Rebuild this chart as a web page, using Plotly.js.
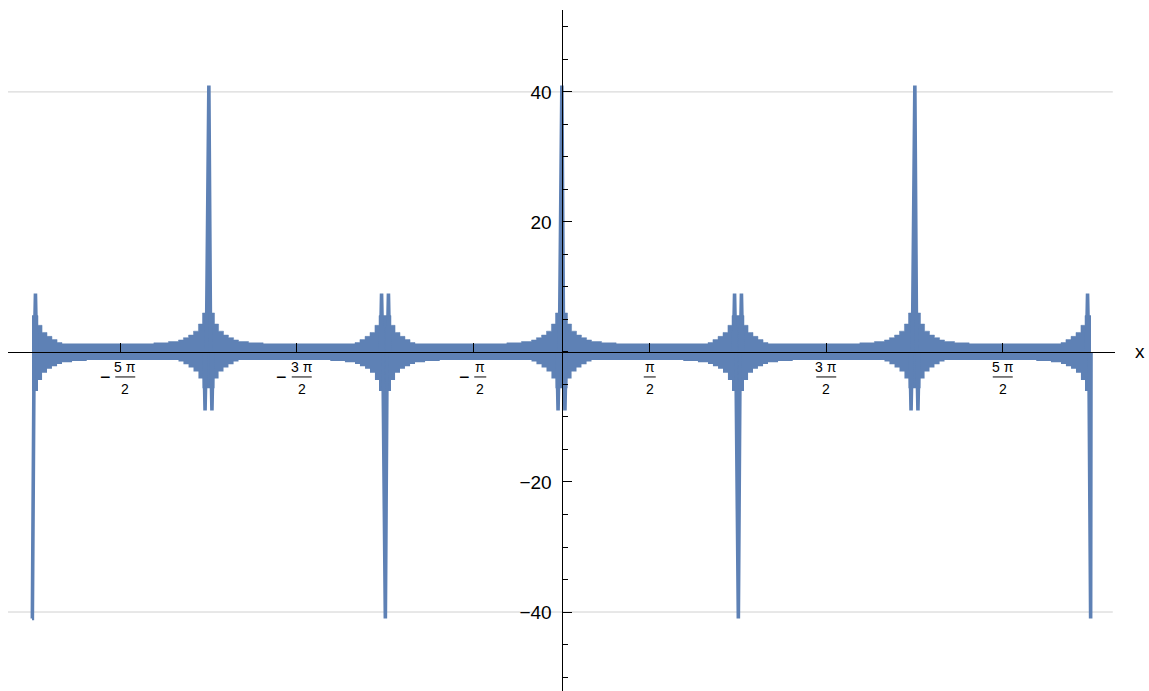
<!DOCTYPE html>
<html>
<head>
<meta charset="utf-8">
<script src="https://cdn.plot.ly/plotly-3.0.1.min.js"></script>
<style>
  html, body { margin: 0; padding: 0; background: #ffffff; }
  #chart { width: 1149px; height: 691px; }
</style>
</head>
<body>
<div id="chart"></div>
<script>
// Spike locations (multiples of π) and their signed peak heights
const spikeCentersPi = [-3, -2, -1, 0, 1, 2, 3];
const spikePeaks = [-41, 41, -41, 41, -41, 41, -41];
// First side lobes on each side of a spike, opposite in sign to the spike
const sideLobeHeight = 9;

// Envelope of the dense oscillation next to a +41 spike,
// listed by distance from the spike (in units of π); mirrored for −41 spikes
const envEdgesPi = [0, 0.034, 0.057, 0.085, 0.113, 0.142, 0.17, 0.227, 0.31, 0.5];
const envUpper   = [6.0, 4.3, 3.2, 2.6, 2.2, 1.85, 1.6, 1.4, 1.25];
const envLower   = [-5.6, -4.1, -3.0, -2.4, -1.9, -1.45, -1.25, -1.2, -1.2];

// x-axis tick labels: value (π units), numerator, denominator, sign
const xTickPi  = [-2.5, -1.5, -0.5, 0.5, 1.5, 2.5];
const xTickNum = ['5 π', '3 π', 'π', 'π', '3 π', '5 π'];
const xTickDen = ['2', '2', '2', '2', '2', '2'];
const xTickNeg = [true, true, true, false, false, false];

// y-axis tick labels
const yTickVals = [-40, -20, 20, 40];
const yTickText = ['−40', '−20', '20', '40'];
const yGridVals = [-40, 40];

const BLUE = '#5E81B5';
const FONT = 'Liberation Sans, Arial, Helvetica, sans-serif';

// Build stepped upper/lower edges of the oscillation band
function bandEdges() {
  const xs = [], up = [], lo = [];
  const n = envUpper.length;
  const first = spikeCentersPi[0], last = spikeCentersPi[spikeCentersPi.length - 1];
  spikeCentersPi.forEach((c, i) => {
    const s = Math.sign(spikePeaks[i]);
    const upAt = j => (s > 0 ? envUpper[j] : -envLower[j]);
    const loAt = j => (s > 0 ? envLower[j] : -envUpper[j]);
    if (c > first) {
      for (let j = n - 1; j >= 0; j--) {
        xs.push(c - envEdgesPi[j + 1], c - envEdgesPi[j]);
        up.push(upAt(j), upAt(j));
        lo.push(loAt(j), loAt(j));
      }
    }
    if (c < last) {
      for (let j = 0; j < n; j++) {
        xs.push(c + envEdgesPi[j], c + envEdgesPi[j + 1]);
        up.push(upAt(j), upAt(j));
        lo.push(loAt(j), loAt(j));
      }
    }
  });
  return { xs, up, lo };
}

// Main spikes and their side lobes as one broken polyline
function spikePaths() {
  const xs = [], ys = [];
  const first = spikeCentersPi[0], last = spikeCentersPi[spikeCentersPi.length - 1];
  const half = 0.012, tip = 0.002, lobeIn = 0.013, lobeMid = 0.0195, lobeOut = 0.026;
  spikeCentersPi.forEach((c, i) => {
    const p = spikePeaks[i];
    const lobe = -Math.sign(p) * sideLobeHeight;
    const hasLeft = c > first, hasRight = c < last;
    // main lobe
    if (hasLeft) { xs.push(c - half, c - tip); ys.push(0, p); }
    else { xs.push(c); ys.push(p); }
    if (hasRight) { xs.push(c + tip, c + half); ys.push(p, 0); }
    else { xs.push(c); ys.push(0); }
    xs.push(null); ys.push(null);
    // side lobes
    if (hasLeft) {
      xs.push(c - lobeOut, c - lobeMid, c - lobeIn, null);
      ys.push(0, lobe, 0, null);
    }
    if (hasRight) {
      xs.push(c + lobeIn, c + lobeMid, c + lobeOut, null);
      ys.push(0, lobe, 0, null);
    }
  });
  return { xs, ys };
}

const band = bandEdges();
const spikes = spikePaths();

const traces = [
  { x: band.xs, y: band.lo, type: 'scatter', mode: 'lines',
    line: { width: 0, color: BLUE }, hoverinfo: 'skip' },
  { x: band.xs, y: band.up, type: 'scatter', mode: 'lines',
    line: { width: 0.5, color: BLUE }, fill: 'tonexty', fillcolor: BLUE, hoverinfo: 'skip' },
  { x: spikes.xs, y: spikes.ys, type: 'scatter', mode: 'lines',
    line: { width: 3.6, color: BLUE }, connectgaps: false, hoverinfo: 'skip' }
];

// Stacked-fraction labels for the x ticks
const annotations = [];
const shapes = [];
xTickPi.forEach((v, i) => {
  const wide = xTickNum[i].length > 1;
  const fracOff = xTickNeg[i] ? (wide ? 5 : 7) : 0;
  const barW = wide ? 20 : 12;
  annotations.push({
    x: v, xref: 'x', y: 0, yref: 'y', xshift: fracOff, yshift: -15,
    text: xTickNum[i], showarrow: false, xanchor: 'center', yanchor: 'middle',
    font: { family: FONT, size: 14, color: '#000' }
  });
  annotations.push({
    x: v, xref: 'x', y: 0, yref: 'y', xshift: fracOff, yshift: -37,
    text: xTickDen[i], showarrow: false, xanchor: 'center', yanchor: 'middle',
    font: { family: FONT, size: 14, color: '#000' }
  });
  if (xTickNeg[i]) {
    annotations.push({
      x: v, xref: 'x', y: 0, yref: 'y', xshift: wide ? -15 : -9, yshift: -25,
      text: '−', showarrow: false, xanchor: 'center', yanchor: 'middle',
      font: { family: FONT, size: 18, color: '#000' }
    });
  }
  shapes.push({
    type: 'line', xref: 'x', xsizemode: 'pixel', xanchor: v,
    x0: fracOff - barW / 2, x1: fracOff + barW / 2,
    yref: 'y', ysizemode: 'pixel', yanchor: 0, y0: -25, y1: -25,
    line: { color: '#000', width: 1 }
  });
});

// Axis name at the right end of the x axis
annotations.push({
  x: 1.0226, xref: 'paper', y: 0, yref: 'y', text: 'x', showarrow: false,
  xanchor: 'center', yanchor: 'middle', font: { family: FONT, size: 19, color: '#000' }
});

// Horizontal grid lines
yGridVals.forEach(g => {
  shapes.push({
    type: 'line', xref: 'paper', x0: 0, x1: 0.998, yref: 'y', y0: g, y1: g,
    line: { color: '#d0d0d0', width: 1 }, layer: 'below'
  });
});

const layout = {
  width: 1149, height: 691,
  margin: { l: 8, r: 34, t: 10, b: 0, pad: 0 },
  paper_bgcolor: '#ffffff', plot_bgcolor: '#ffffff',
  showlegend: false,
  font: { family: FONT, color: '#000' },
  xaxis: {
    range: [-3.136, 3.136], anchor: 'free', position: 0.4978,
    showline: true, linecolor: '#000', linewidth: 1,
    ticks: 'inside', ticklen: 9, tickcolor: '#000', tickwidth: 1,
    tickmode: 'array', tickvals: xTickPi, showticklabels: false,
    showgrid: false, zeroline: false, fixedrange: true
  },
  yaxis: {
    range: [-52.15, 52.6], anchor: 'free', position: 0.5,
    showline: true, linecolor: '#000', linewidth: 1,
    ticks: 'inside', ticklen: 9, tickcolor: '#000', tickwidth: 1,
    tickmode: 'array', tickvals: yTickVals, ticktext: yTickText,
    tickfont: { family: FONT, size: 19, color: '#000' },
    ticklabelstandoff: 6,
    minor: { ticks: 'inside', ticklen: 5, tickcolor: '#000', tickwidth: 1,
             tickmode: 'linear', tick0: 0, dtick: 5 },
    showgrid: false, zeroline: false, fixedrange: true
  },
  annotations: annotations,
  shapes: shapes
};

Plotly.newPlot('chart', traces, layout, { displayModeBar: false, staticPlot: true });
</script>
</body>
</html>
